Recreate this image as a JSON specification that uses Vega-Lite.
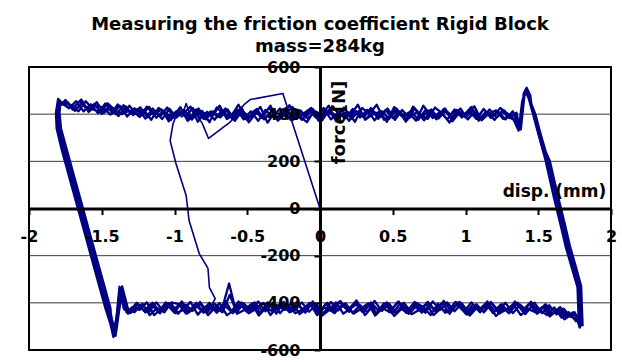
{
  "$schema": "https://vega.github.io/schema/vega-lite/v6.json",
  "width": 582,
  "height": 283,
  "autosize": {"type": "none"},
  "padding": {"left": 29, "top": 67, "right": 11, "bottom": 12},
  "background": "white",
  "title": {
    "text": ["Measuring the friction coefficient Rigid Block", "mass=284kg"],
    "font": "DejaVu Sans",
    "fontSize": 18,
    "fontWeight": "bold",
    "color": "black",
    "anchor": "middle",
    "lineHeight": 22,
    "offset": 3
  },
  "config": {
    "view": {"stroke": "black", "strokeWidth": 2},
    "font": "DejaVu Sans"
  },
  "layer": [
    {
      "data": {"values": [{"y": -400}, {"y": -200}, {"y": 200}, {"y": 400}]},
      "mark": {"type": "rule", "color": "#3a3a3a", "strokeWidth": 1},
      "encoding": {
        "y": {"field": "y", "type": "quantitative", "scale": {"domain": [-600, 600], "nice": false, "zero": false}}
      }
    },
    {
      "data": {"values": [
        {"x":-1.77,"y":446},
        {"x":-1.75,"y":460},{"x":-1.7,"y":420},{"x":-1.65,"y":457},{"x":-1.6,"y":419},{"x":-1.55,"y":444},{"x":-1.5,"y":401},{"x":-1.45,"y":432},{"x":-1.4,"y":399},{"x":-1.35,"y":438},{"x":-1.3,"y":403},{"x":-1.25,"y":423},{"x":-1.2,"y":381},{"x":-1.15,"y":424},{"x":-1.1,"y":390},{"x":-1.05,"y":428},{"x":-1,"y":383},{"x":-0.95,"y":408},{"x":-0.9,"y":378},{"x":-0.85,"y":420},{"x":-0.8,"y":380},{"x":-0.75,"y":412},{"x":-0.7,"y":388},{"x":-0.65,"y":424},{"x":-0.6,"y":378},{"x":-0.55,"y":410},{"x":-0.5,"y":374},{"x":-0.45,"y":416},{"x":-0.4,"y":384},{"x":-0.35,"y":428},{"x":-0.3,"y":382},{"x":-0.25,"y":408},{"x":-0.2,"y":376},{"x":-0.15,"y":418},{"x":-0.1,"y":386},{"x":-0.05,"y":422},{"x":0,"y":380},{"x":0.05,"y":414},{"x":0.1,"y":388},{"x":0.15,"y":420},{"x":0.2,"y":372},{"x":0.25,"y":412},{"x":0.3,"y":386},{"x":0.35,"y":426},{"x":0.4,"y":380},{"x":0.45,"y":418},{"x":0.5,"y":384},{"x":0.55,"y":410},{"x":0.6,"y":376},{"x":0.65,"y":424},{"x":0.7,"y":388},{"x":0.75,"y":416},{"x":0.8,"y":378},{"x":0.85,"y":422},{"x":0.9,"y":382},{"x":0.95,"y":412},{"x":1,"y":386},{"x":1.05,"y":418},{"x":1.1,"y":380},{"x":1.15,"y":408},{"x":1.2,"y":376},{"x":1.25,"y":414},{"x":1.3,"y":384},{"x":1.35,"y":406},
        {"x":1.37,"y":350},{"x":1.4,"y":470},{"x":1.42,"y":505},{"x":1.44,"y":470},{"x":1.47,"y":410},{"x":1.5,"y":340},{"x":1.56,"y":205},{"x":1.62,"y":40},{"x":1.66,"y":-60},{"x":1.7,"y":-165},{"x":1.74,"y":-250},{"x":1.78,"y":-335},{"x":1.785,"y":-420},{"x":1.79,"y":-500},{"x":1.77,"y":-462},
        {"x":1.75,"y":-440},{"x":1.7,"y":-457},{"x":1.65,"y":-418},{"x":1.6,"y":-447},{"x":1.55,"y":-406},{"x":1.5,"y":-443},{"x":1.45,"y":-395},{"x":1.4,"y":-440},{"x":1.35,"y":-402},{"x":1.3,"y":-444},{"x":1.25,"y":-406},{"x":1.2,"y":-436},{"x":1.15,"y":-394},{"x":1.1,"y":-440},{"x":1.05,"y":-408},{"x":1,"y":-446},{"x":0.95,"y":-400},{"x":0.9,"y":-434},{"x":0.85,"y":-392},{"x":0.8,"y":-438},{"x":0.75,"y":-410},{"x":0.7,"y":-442},{"x":0.65,"y":-396},{"x":0.6,"y":-436},{"x":0.55,"y":-402},{"x":0.5,"y":-448},{"x":0.45,"y":-406},{"x":0.4,"y":-432},{"x":0.35,"y":-398},{"x":0.3,"y":-440},{"x":0.25,"y":-390},{"x":0.2,"y":-438},{"x":0.15,"y":-408},{"x":0.1,"y":-444},{"x":0.05,"y":-400},{"x":0,"y":-434},{"x":-0.05,"y":-394},{"x":-0.1,"y":-442},{"x":-0.15,"y":-410},{"x":-0.2,"y":-438},{"x":-0.25,"y":-396},{"x":-0.3,"y":-446},{"x":-0.35,"y":-404},{"x":-0.4,"y":-432},{"x":-0.45,"y":-398},{"x":-0.5,"y":-440},{"x":-0.55,"y":-406},{"x":-0.6,"y":-444},{"x":-0.65,"y":-392},{"x":-0.7,"y":-436},{"x":-0.75,"y":-408},{"x":-0.8,"y":-442},{"x":-0.85,"y":-400},{"x":-0.9,"y":-438},{"x":-0.95,"y":-394},{"x":-1,"y":-434},{"x":-1.05,"y":-402},{"x":-1.1,"y":-444},{"x":-1.15,"y":-408},{"x":-1.2,"y":-440},{"x":-1.25,"y":-404},{"x":-1.3,"y":-442},
        {"x":-1.34,"y":-420},{"x":-1.37,"y":-335},{"x":-1.39,"y":-440},{"x":-1.41,"y":-535},{"x":-1.43,"y":-480},{"x":-1.45,"y":-423},{"x":-1.5,"y":-311},{"x":-1.55,"y":-199},{"x":-1.6,"y":-87},{"x":-1.65,"y":25},{"x":-1.7,"y":137},{"x":-1.75,"y":249},{"x":-1.79,"y":339},{"x":-1.8,"y":400},{"x":-1.79,"y":455},{"x":-1.77,"y":445},
        {"x":-1.725,"y":425},{"x":-1.675,"y":455},{"x":-1.625,"y":412},{"x":-1.575,"y":442},{"x":-1.525,"y":404},{"x":-1.475,"y":445},{"x":-1.425,"y":404},{"x":-1.375,"y":435},{"x":-1.325,"y":390},{"x":-1.275,"y":425},{"x":-1.225,"y":395},{"x":-1.175,"y":431},{"x":-1.125,"y":385},{"x":-1.075,"y":415},{"x":-1.025,"y":375},{"x":-0.975,"y":418},{"x":-0.925,"y":388},{"x":-0.875,"y":426},{"x":-0.825,"y":382},{"x":-0.775,"y":410},{"x":-0.725,"y":376},{"x":-0.675,"y":416},{"x":-0.625,"y":386},{"x":-0.575,"y":422},{"x":-0.525,"y":378},{"x":-0.475,"y":412},{"x":-0.425,"y":372},{"x":-0.375,"y":418},{"x":-0.325,"y":388},{"x":-0.275,"y":424},{"x":-0.225,"y":380},{"x":-0.175,"y":410},{"x":-0.125,"y":376},{"x":-0.075,"y":416},{"x":-0.025,"y":384},{"x":0.025,"y":426},{"x":0.075,"y":378},{"x":0.125,"y":408},{"x":0.175,"y":382},{"x":0.225,"y":422},{"x":0.275,"y":386},{"x":0.325,"y":418},{"x":0.375,"y":374},{"x":0.425,"y":412},{"x":0.475,"y":380},{"x":0.525,"y":424},{"x":0.575,"y":388},{"x":0.625,"y":414},{"x":0.675,"y":376},{"x":0.725,"y":418},{"x":0.775,"y":384},{"x":0.825,"y":410},{"x":0.875,"y":378},{"x":0.925,"y":420},{"x":0.975,"y":386},{"x":1.025,"y":414},{"x":1.075,"y":380},{"x":1.125,"y":422},{"x":1.175,"y":384},{"x":1.225,"y":410},{"x":1.275,"y":378},{"x":1.325,"y":412},
        {"x":1.355,"y":370},{"x":1.38,"y":335},{"x":1.405,"y":480},{"x":1.425,"y":500},{"x":1.445,"y":455},{"x":1.48,"y":400},{"x":1.51,"y":330},{"x":1.57,"y":200},{"x":1.63,"y":35},{"x":1.67,"y":-65},{"x":1.71,"y":-170},{"x":1.75,"y":-255},{"x":1.785,"y":-340},{"x":1.79,"y":-430},{"x":1.795,"y":-490},{"x":1.775,"y":-470},
        {"x":1.725,"y":-460},{"x":1.675,"y":-425},{"x":1.625,"y":-449},{"x":1.575,"y":-410},{"x":1.525,"y":-444},{"x":1.475,"y":-400},{"x":1.425,"y":-436},{"x":1.375,"y":-408},{"x":1.325,"y":-444},{"x":1.275,"y":-400},{"x":1.225,"y":-432},{"x":1.175,"y":-396},{"x":1.125,"y":-440},{"x":1.075,"y":-406},{"x":1.025,"y":-446},{"x":0.975,"y":-402},{"x":0.925,"y":-436},{"x":0.875,"y":-398},{"x":0.825,"y":-430},{"x":0.775,"y":-394},{"x":0.725,"y":-442},{"x":0.675,"y":-408},{"x":0.625,"y":-438},{"x":0.575,"y":-400},{"x":0.525,"y":-444},{"x":0.475,"y":-404},{"x":0.425,"y":-434},{"x":0.375,"y":-392},{"x":0.325,"y":-440},{"x":0.275,"y":-410},{"x":0.225,"y":-442},{"x":0.175,"y":-402},{"x":0.125,"y":-432},{"x":0.075,"y":-396},{"x":0.025,"y":-446},{"x":-0.025,"y":-406},{"x":-0.075,"y":-438},{"x":-0.125,"y":-398},{"x":-0.175,"y":-434},{"x":-0.225,"y":-408},{"x":-0.275,"y":-444},{"x":-0.325,"y":-400},{"x":-0.375,"y":-436},{"x":-0.425,"y":-394},{"x":-0.475,"y":-432},{"x":-0.525,"y":-402},{"x":-0.575,"y":-442},{"x":-0.625,"y":-318},{"x":-0.675,"y":-430},{"x":-0.725,"y":-404},{"x":-0.775,"y":-440},{"x":-0.825,"y":-396},{"x":-0.875,"y":-434},{"x":-0.925,"y":-408},{"x":-0.975,"y":-446},{"x":-1.025,"y":-400},{"x":-1.075,"y":-436},{"x":-1.125,"y":-398},{"x":-1.175,"y":-438},{"x":-1.225,"y":-406},{"x":-1.275,"y":-440},
        {"x":-1.32,"y":-425},{"x":-1.36,"y":-330},{"x":-1.385,"y":-445},{"x":-1.405,"y":-540},{"x":-1.425,"y":-485},{"x":-1.46,"y":-423},{"x":-1.515,"y":-311},{"x":-1.565,"y":-199},{"x":-1.615,"y":-87},{"x":-1.665,"y":25},{"x":-1.715,"y":137},{"x":-1.76,"y":249},{"x":-1.795,"y":339},{"x":-1.805,"y":410},{"x":-1.795,"y":462},{"x":-1.775,"y":448},
        {"x":-1.735,"y":452},{"x":-1.685,"y":414},{"x":-1.635,"y":449},{"x":-1.585,"y":416},{"x":-1.535,"y":451},{"x":-1.485,"y":406},{"x":-1.435,"y":429},{"x":-1.385,"y":392},{"x":-1.335,"y":433},{"x":-1.285,"y":396},{"x":-1.235,"y":429},{"x":-1.185,"y":387},{"x":-1.135,"y":415},{"x":-1.085,"y":379},{"x":-1.035,"y":423},{"x":-0.985,"y":386},{"x":-0.935,"y":418},{"x":-0.885,"y":382},{"x":-0.835,"y":424},{"x":-0.785,"y":378},{"x":-0.735,"y":412},{"x":-0.685,"y":386},{"x":-0.635,"y":420},{"x":-0.585,"y":372},{"x":-0.535,"y":414},{"x":-0.485,"y":388},{"x":-0.435,"y":422},{"x":-0.385,"y":378},{"x":-0.335,"y":410},{"x":-0.285,"y":384},{"x":-0.235,"y":426},{"x":-0.185,"y":376},{"x":-0.135,"y":416},{"x":-0.085,"y":382},{"x":-0.035,"y":408},{"x":0.015,"y":374},{"x":0.065,"y":420},{"x":0.115,"y":386},{"x":0.165,"y":428},{"x":0.215,"y":380},{"x":0.265,"y":412},{"x":0.315,"y":378},{"x":0.365,"y":414},{"x":0.415,"y":388},{"x":0.465,"y":424},{"x":0.515,"y":376},{"x":0.565,"y":418},{"x":0.615,"y":384},{"x":0.665,"y":410},{"x":0.715,"y":374},{"x":0.765,"y":420},{"x":0.815,"y":382},{"x":0.865,"y":416},{"x":0.915,"y":388},{"x":0.965,"y":424},{"x":1.015,"y":378},{"x":1.065,"y":412},{"x":1.115,"y":382},{"x":1.165,"y":420},{"x":1.215,"y":386},{"x":1.265,"y":416},{"x":1.315,"y":382},
        {"x":1.345,"y":372},{"x":1.37,"y":340},{"x":1.395,"y":460},{"x":1.415,"y":495},{"x":1.435,"y":465},{"x":1.465,"y":405},{"x":1.495,"y":335},{"x":1.555,"y":205},{"x":1.615,"y":40},{"x":1.655,"y":-60},{"x":1.695,"y":-165},{"x":1.735,"y":-250},{"x":1.775,"y":-335},{"x":1.78,"y":-425},{"x":1.785,"y":-505},{"x":1.765,"y":-465},
        {"x":1.74,"y":-440},{"x":1.69,"y":-461},{"x":1.64,"y":-423},{"x":1.59,"y":-451},{"x":1.54,"y":-411},{"x":1.49,"y":-446},{"x":1.44,"y":-402},{"x":1.39,"y":-434},{"x":1.34,"y":-394},{"x":1.29,"y":-440},{"x":1.24,"y":-408},{"x":1.19,"y":-444},{"x":1.14,"y":-402},{"x":1.09,"y":-432},{"x":1.04,"y":-398},{"x":0.99,"y":-438},{"x":0.94,"y":-406},{"x":0.89,"y":-446},{"x":0.84,"y":-400},{"x":0.79,"y":-430},{"x":0.74,"y":-396},{"x":0.69,"y":-436},{"x":0.64,"y":-408},{"x":0.59,"y":-442},{"x":0.54,"y":-394},{"x":0.49,"y":-434},{"x":0.44,"y":-402},{"x":0.39,"y":-444},{"x":0.34,"y":-406},{"x":0.29,"y":-438},{"x":0.24,"y":-398},{"x":0.19,"y":-432},{"x":0.14,"y":-392},{"x":0.09,"y":-440},{"x":0.04,"y":-404},{"x":-0.01,"y":-446},{"x":-0.06,"y":-408},{"x":-0.11,"y":-436},{"x":-0.16,"y":-396},{"x":-0.21,"y":-440},{"x":-0.26,"y":-406},{"x":-0.31,"y":-432},{"x":-0.36,"y":-398},{"x":-0.41,"y":-444},{"x":-0.46,"y":-402},{"x":-0.51,"y":-434},{"x":-0.56,"y":-394},{"x":-0.61,"y":-438},{"x":-0.66,"y":-408},{"x":-0.71,"y":-442},{"x":-0.76,"y":-400},{"x":-0.81,"y":-436},{"x":-0.86,"y":-406},{"x":-0.91,"y":-444},{"x":-0.96,"y":-402},{"x":-1.01,"y":-432},{"x":-1.06,"y":-398},{"x":-1.11,"y":-440},{"x":-1.16,"y":-404},{"x":-1.21,"y":-434},{"x":-1.26,"y":-400},{"x":-1.31,"y":-438},
        {"x":-1.345,"y":-428},{"x":-1.375,"y":-338},{"x":-1.395,"y":-452},{"x":-1.415,"y":-532},{"x":-1.435,"y":-475},{"x":-1.44,"y":-423},{"x":-1.49,"y":-311},{"x":-1.54,"y":-199},{"x":-1.59,"y":-87},{"x":-1.64,"y":25},{"x":-1.69,"y":137},{"x":-1.74,"y":249},{"x":-1.78,"y":339},{"x":-1.79,"y":405},{"x":-1.785,"y":452},{"x":-1.765,"y":440},
        {"x":-1.74,"y":448},{"x":-1.69,"y":430},{"x":-1.64,"y":462},{"x":-1.59,"y":410},{"x":-1.54,"y":436},{"x":-1.49,"y":428},{"x":-1.44,"y":398},{"x":-1.39,"y":441},{"x":-1.34,"y":409},{"x":-1.29,"y":416},{"x":-1.24,"y":388},{"x":-1.19,"y":432},{"x":-1.14,"y":396},{"x":-1.09,"y":420},{"x":-1.04,"y":370},{"x":-0.99,"y":412},{"x":-0.94,"y":402},{"x":-0.89,"y":432},{"x":-0.84,"y":368},{"x":-0.79,"y":405},{"x":-0.74,"y":392},{"x":-0.69,"y":436},{"x":-0.64,"y":380},{"x":-0.59,"y":398},{"x":-0.54,"y":428},{"x":-0.49,"y":366},{"x":-0.44,"y":404},{"x":-0.39,"y":395},{"x":-0.34,"y":436},{"x":-0.29,"y":372},{"x":-0.24,"y":400},{"x":-0.19,"y":430},{"x":-0.14,"y":392},{"x":-0.09,"y":366},{"x":-0.04,"y":414},{"x":0.01,"y":398},{"x":0.06,"y":436},{"x":0.11,"y":370},{"x":0.16,"y":404},{"x":0.21,"y":394},{"x":0.26,"y":440},{"x":0.31,"y":376},{"x":0.36,"y":398},{"x":0.41,"y":410},{"x":0.46,"y":368},{"x":0.51,"y":430},{"x":0.56,"y":392},{"x":0.61,"y":406},{"x":0.66,"y":372},{"x":0.71,"y":436},{"x":0.76,"y":396},{"x":0.81,"y":388},{"x":0.86,"y":424},{"x":0.91,"y":370},{"x":0.96,"y":408},{"x":1.01,"y":398},{"x":1.06,"y":434},{"x":1.11,"y":374},{"x":1.16,"y":402},{"x":1.21,"y":416},{"x":1.26,"y":380},{"x":1.31,"y":398},
        {"x":1.34,"y":365},{"x":1.365,"y":330},{"x":1.39,"y":455},{"x":1.41,"y":500},{"x":1.43,"y":478},{"x":1.455,"y":420},{"x":1.49,"y":350},{"x":1.53,"y":270},{"x":1.58,"y":200},{"x":1.64,"y":40},{"x":1.68,"y":-60},{"x":1.72,"y":-165},{"x":1.76,"y":-250},{"x":1.795,"y":-330},{"x":1.8,"y":-420},{"x":1.805,"y":-495},{"x":1.785,"y":-470},
        {"x":1.76,"y":-478},{"x":1.71,"y":-440},{"x":1.66,"y":-462},{"x":1.61,"y":-420},{"x":1.56,"y":-452},{"x":1.51,"y":-430},{"x":1.46,"y":-412},{"x":1.41,"y":-448},{"x":1.36,"y":-400},{"x":1.31,"y":-436},{"x":1.26,"y":-424},{"x":1.21,"y":-456},{"x":1.16,"y":-404},{"x":1.11,"y":-430},{"x":1.06,"y":-418},{"x":1.01,"y":-450},{"x":0.96,"y":-396},{"x":0.91,"y":-428},{"x":0.86,"y":-442},{"x":0.81,"y":-404},{"x":0.76,"y":-452},{"x":0.71,"y":-418},{"x":0.66,"y":-400},{"x":0.61,"y":-446},{"x":0.56,"y":-426},{"x":0.51,"y":-456},{"x":0.46,"y":-398},{"x":0.41,"y":-430},{"x":0.36,"y":-416},{"x":0.31,"y":-452},{"x":0.26,"y":-402},{"x":0.21,"y":-424},{"x":0.16,"y":-446},{"x":0.11,"y":-398},{"x":0.06,"y":-432},{"x":0.01,"y":-456},{"x":-0.04,"y":-404},{"x":-0.09,"y":-422},{"x":-0.14,"y":-448},{"x":-0.19,"y":-396},{"x":-0.24,"y":-430},{"x":-0.29,"y":-414},{"x":-0.34,"y":-452},{"x":-0.39,"y":-400},{"x":-0.44,"y":-426},{"x":-0.49,"y":-444},{"x":-0.54,"y":-398},{"x":-0.59,"y":-432},{"x":-0.64,"y":-452},{"x":-0.69,"y":-402},{"x":-0.74,"y":-428},{"x":-0.79,"y":-416},{"x":-0.84,"y":-450},{"x":-0.89,"y":-396},{"x":-0.94,"y":-430},{"x":-0.99,"y":-444},{"x":-1.04,"y":-402},{"x":-1.09,"y":-424},{"x":-1.14,"y":-452},{"x":-1.19,"y":-398},{"x":-1.24,"y":-430},{"x":-1.29,"y":-418},
        {"x":-1.33,"y":-440},{"x":-1.355,"y":-345},{"x":-1.38,"y":-430},{"x":-1.4,"y":-520},{"x":-1.42,"y":-545},{"x":-1.44,"y":-490},{"x":-1.475,"y":-423},{"x":-1.525,"y":-311},{"x":-1.575,"y":-199},{"x":-1.625,"y":-87},{"x":-1.675,"y":25},{"x":-1.725,"y":137},{"x":-1.775,"y":249},{"x":-1.81,"y":339},{"x":-1.815,"y":405},{"x":-1.8,"y":465},{"x":-1.78,"y":450},
        {"x":-1.71,"y":438},{"x":-1.66,"y":412},{"x":-1.61,"y":455},{"x":-1.56,"y":420},{"x":-1.51,"y":408},{"x":-1.46,"y":446},{"x":-1.41,"y":418},{"x":-1.36,"y":400},{"x":-1.31,"y":436},{"x":-1.26,"y":398},{"x":-1.21,"y":418},{"x":-1.16,"y":376},{"x":-1.11,"y":426},{"x":-1.06,"y":404},{"x":-1.01,"y":388},{"x":-0.96,"y":430},{"x":-0.91,"y":372},{"x":-0.86,"y":398},{"x":-0.81,"y":414},{"x":-0.76,"y":366},{"x":-0.71,"y":428},{"x":-0.66,"y":400},{"x":-0.61,"y":392},{"x":-0.56,"y":440},{"x":-0.51,"y":380},{"x":-0.46,"y":396},{"x":-0.41,"y":430},{"x":-0.36,"y":364},{"x":-0.31,"y":410},{"x":-0.26,"y":392},{"x":-0.21,"y":438},{"x":-0.16,"y":380},{"x":-0.11,"y":404},{"x":-0.06,"y":426},{"x":-0.01,"y":372},{"x":0.04,"y":400},{"x":0.09,"y":432},{"x":0.14,"y":390},{"x":0.19,"y":410},{"x":0.24,"y":368},{"x":0.29,"y":426},{"x":0.34,"y":402},{"x":0.39,"y":440},{"x":0.44,"y":376},{"x":0.49,"y":398},{"x":0.54,"y":414},{"x":0.59,"y":368},{"x":0.64,"y":432},{"x":0.69,"y":398},{"x":0.74,"y":380},{"x":0.79,"y":428},{"x":0.84,"y":404},{"x":0.89,"y":364},{"x":0.94,"y":418},{"x":0.99,"y":396},{"x":1.04,"y":430},{"x":1.09,"y":372},{"x":1.14,"y":410},{"x":1.19,"y":392},{"x":1.24,"y":426},{"x":1.29,"y":402},{"x":1.34,"y":376},
        {"x":1.36,"y":345},{"x":1.385,"y":380},{"x":1.4,"y":488},{"x":1.42,"y":512},{"x":1.445,"y":480},{"x":1.46,"y":410},{"x":1.49,"y":340},{"x":1.55,"y":205},{"x":1.61,"y":40},{"x":1.65,"y":-60},{"x":1.69,"y":-165},{"x":1.73,"y":-250},{"x":1.77,"y":-335},{"x":1.775,"y":-425},{"x":1.78,"y":-490},{"x":1.76,"y":-455},
        {"x":1.73,"y":-450},{"x":1.68,"y":-470},{"x":1.63,"y":-430},{"x":1.58,"y":-458},{"x":1.53,"y":-416},{"x":1.48,"y":-440},{"x":1.43,"y":-426},{"x":1.38,"y":-452},{"x":1.33,"y":-406},{"x":1.28,"y":-428},{"x":1.23,"y":-446},{"x":1.18,"y":-400},{"x":1.13,"y":-438},{"x":1.08,"y":-420},{"x":1.03,"y":-454},{"x":0.98,"y":-410},{"x":0.93,"y":-396},{"x":0.88,"y":-440},{"x":0.83,"y":-424},{"x":0.78,"y":-452},{"x":0.73,"y":-404},{"x":0.68,"y":-430},{"x":0.63,"y":-448},{"x":0.58,"y":-410},{"x":0.53,"y":-398},{"x":0.48,"y":-440},{"x":0.43,"y":-422},{"x":0.38,"y":-454},{"x":0.33,"y":-402},{"x":0.28,"y":-426},{"x":0.23,"y":-446},{"x":0.18,"y":-412},{"x":0.13,"y":-396},{"x":0.08,"y":-436},{"x":0.03,"y":-420},{"x":-0.02,"y":-452},{"x":-0.07,"y":-400},{"x":-0.12,"y":-428},{"x":-0.17,"y":-444},{"x":-0.22,"y":-408},{"x":-0.27,"y":-398},{"x":-0.32,"y":-438},{"x":-0.37,"y":-420},{"x":-0.42,"y":-454},{"x":-0.47,"y":-404},{"x":-0.52,"y":-430},{"x":-0.57,"y":-446},{"x":-0.62,"y":-366},{"x":-0.67,"y":-440},{"x":-0.72,"y":-420},{"x":-0.77,"y":-452},{"x":-0.82,"y":-404},{"x":-0.87,"y":-428},{"x":-0.92,"y":-446},{"x":-0.97,"y":-406},{"x":-1.02,"y":-398},{"x":-1.07,"y":-440},{"x":-1.12,"y":-422},{"x":-1.17,"y":-452},{"x":-1.22,"y":-404},{"x":-1.27,"y":-432},{"x":-1.32,"y":-446},
        {"x":-1.35,"y":-410},{"x":-1.37,"y":-350},{"x":-1.39,"y":-460},{"x":-1.41,"y":-525},{"x":-1.43,"y":-470},{"x":-1.445,"y":-423},{"x":-1.495,"y":-311},{"x":-1.545,"y":-199},{"x":-1.595,"y":-87},{"x":-1.645,"y":25},{"x":-1.695,"y":137},{"x":-1.745,"y":249},{"x":-1.785,"y":339},{"x":-1.795,"y":402},{"x":-1.79,"y":450},{"x":-1.77,"y":438}
      ]},
      "mark": {"type": "line", "color": "#000080", "strokeWidth": 2.3, "strokeJoin": "round", "clip": true},
      "encoding": {
        "x": {
          "field": "x", "type": "quantitative",
          "scale": {"domain": [-2, 2], "nice": false, "zero": false},
          "axis": {
            "orient": "bottom", "offset": -141.5, "zindex": 1,
            "values": [-2, -1.5, -1, -0.5, 0, 0.5, 1, 1.5, 2],
            "labelExpr": "replace(format(datum.value, '~g'), '\u2212', '-')",
            "grid": false, "domainColor": "black", "domainWidth": 3,
            "tickColor": "black", "tickSize": 6, "tickWidth": 2,
            "labelFont": "DejaVu Sans", "labelFontSize": 16, "labelFontWeight": "bold", "labelColor": "black",
            "labelPadding": 14, "labelOverlap": false, "labelFlush": false,
            "title": "disp. (mm)", "titleFont": "DejaVu Sans", "titleFontSize": 17, "titleFontWeight": "bold", "titleColor": "black",
            "titleX": 525, "titleY": -17, "titleAlign": "center", "titleBaseline": "middle", "titleAngle": 0
          }
        },
        "y": {
          "field": "y", "type": "quantitative",
          "scale": {"domain": [-600, 600], "nice": false, "zero": false},
          "axis": {
            "orient": "left", "offset": -291, "zindex": 1,
            "values": [-600, -400, -200, 0, 200, 400, 600],
            "labelExpr": "replace(format(datum.value, '~g'), '\u2212', '-')",
            "grid": false, "domainColor": "black", "domainWidth": 3,
            "tickColor": "black", "tickSize": 6, "tickWidth": 2,
            "labelFont": "DejaVu Sans", "labelFontSize": 16, "labelFontWeight": "bold", "labelColor": "black",
            "labelPadding": 14, "labelOverlap": false, "labelFlush": false,
            "title": "force[N]", "titleFont": "DejaVu Sans", "titleFontSize": 18, "titleFontWeight": "bold", "titleColor": "black",
            "titleX": 19, "titleY": 55, "titleAlign": "center", "titleBaseline": "middle", "titleAngle": -90
          }
        },
        "order": {"value": null}
      }
    },
    {
      "data": {"values": [
        {"x":0,"y":0},{"x":-0.255,"y":488},{"x":-0.48,"y":462},{"x":-0.52,"y":442},{"x":-0.62,"y":365},{"x":-0.766,"y":297},{"x":-0.81,"y":362},{"x":-0.85,"y":398},{"x":-0.88,"y":375},{"x":-0.92,"y":445},{"x":-0.95,"y":388},{"x":-0.98,"y":405},{"x":-1.01,"y":360},{"x":-1.03,"y":288},{"x":-0.99,"y":191},{"x":-0.92,"y":55},{"x":-0.9,"y":-51},{"x":-0.83,"y":-191},{"x":-0.77,"y":-254},{"x":-0.76,"y":-335},{"x":-0.72,"y":-382},
        {"x":-0.75,"y":-415},{"x":-0.8,"y":-440},{"x":-0.85,"y":-405},{"x":-0.9,"y":-438},{"x":-0.95,"y":-400},{"x":-1,"y":-444},{"x":-1.05,"y":-410},{"x":-1.1,"y":-436},{"x":-1.15,"y":-398},{"x":-1.2,"y":-442},{"x":-1.25,"y":-406},{"x":-1.3,"y":-430},{"x":-1.35,"y":-425},{"x":-1.38,"y":-330},{"x":-1.4,"y":-455},{"x":-1.42,"y":-528},{"x":-1.44,"y":-478},{"x":-1.455,"y":-423},{"x":-1.505,"y":-311},{"x":-1.555,"y":-199},{"x":-1.605,"y":-87},{"x":-1.655,"y":25},{"x":-1.705,"y":137},{"x":-1.755,"y":249},{"x":-1.79,"y":339},{"x":-1.8,"y":395},{"x":-1.79,"y":458},{"x":-1.77,"y":446}
      ]},
      "mark": {"type": "line", "color": "#000080", "strokeWidth": 1.6, "strokeJoin": "round", "clip": true},
      "encoding": {
        "x": {"field": "x", "type": "quantitative"},
        "y": {"field": "y", "type": "quantitative"},
        "order": {"value": null}
      }
    }
  ]
}
